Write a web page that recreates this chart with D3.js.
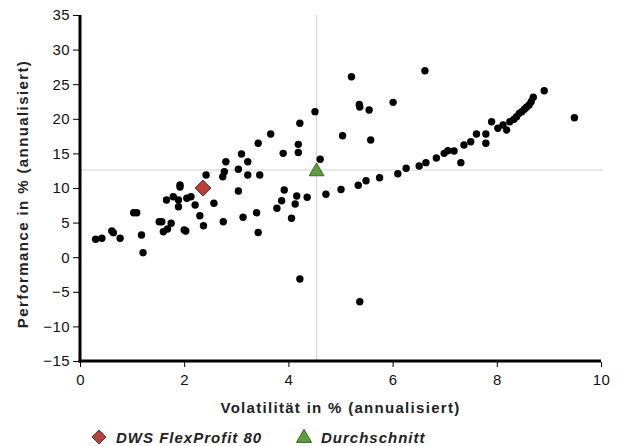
<!DOCTYPE html>
<html>
<head>
<meta charset="utf-8">
<script src="https://cdn.jsdelivr.net/npm/d3@7"></script>
<style>
  body { margin: 0; background: #fff; }
  svg { font-family: "Liberation Sans", Arial, sans-serif; }
</style>
</head>
<body>
<svg id="chart"></svg>
<script>
// peer group funds: volatility (x) and performance (y), both in % annualised
const volatility = [0.30, 0.42, 0.61, 0.64, 0.77, 1.03, 1.09, 1.18, 1.21, 1.52, 1.57, 1.60, 1.68, 1.75,
  1.66, 1.79, 1.89, 1.89, 1.92, 1.92, 2.05, 2.13, 2.21, 2.30, 2.37, 2.00, 2.03, 2.42, 2.57, 2.74,
  2.77, 2.80, 2.75, 3.04, 3.04, 3.10, 3.22, 3.22, 3.13, 3.39, 3.42, 3.42, 3.45, 3.66, 3.78, 3.87,
  3.92, 3.90, 4.06, 4.13, 4.16, 4.19, 4.19, 4.22, 4.36, 4.51, 4.61, 4.22, 5.37, 4.72, 5.01, 5.34,
  5.49, 5.75, 6.10, 6.26, 6.51, 6.64, 6.84, 6.99, 7.06, 7.18, 7.31, 7.37, 7.50, 7.61, 7.79, 7.79,
  7.90, 8.02, 8.12, 8.19, 8.25, 8.33, 8.38, 8.43, 8.48, 8.53, 8.57, 8.62, 8.66, 8.70, 8.91, 9.49,
  5.21, 6.62, 5.36, 5.37, 5.55, 6.01, 5.04, 5.58];
const performance = [2.59, 2.73, 3.79, 3.55, 2.73, 6.43, 6.43, 3.21, 0.65, 5.13, 5.13, 3.68, 4.08, 4.90,
  8.27, 8.74, 8.27, 7.30, 10.43, 10.14, 8.51, 8.74, 7.54, 6.00, 4.55, 3.93, 3.79, 11.88, 7.79, 11.63,
  12.36, 13.80, 5.13, 9.57, 12.70, 14.91, 13.80, 11.88, 5.77, 6.43, 3.57, 16.46, 11.88, 17.80, 7.07, 8.16,
  9.71, 15.01, 5.62, 7.69, 8.84, 16.31, 15.13, 19.35, 8.66, 21.03, 14.15, -3.15, -6.43, 9.09, 9.78, 10.39,
  11.05, 11.49, 12.07, 12.85, 13.18, 13.66, 14.34, 15.01, 15.38, 15.35, 13.66, 16.21, 16.69, 17.80, 17.80, 16.46,
  19.58, 18.63, 19.10, 18.38, 19.58, 19.93, 20.30, 20.79, 21.03, 21.37, 21.66, 21.99, 22.47, 23.11, 24.06, 20.16,
  26.08, 26.95, 22.07, 21.70, 21.27, 22.38, 17.54, 16.94];

const fund = { name: "DWS FlexProfit 80", vol: 2.36, perf: 10.0 };
const average = { name: "Durchschnitt", vol: 4.54, perf: 12.6 };

const xTicks = [0, 2, 4, 6, 8, 10];
const yTicks = [-15, -10, -5, 0, 5, 10, 15, 20, 25, 30, 35];

const width = 628, height = 446;
const margin = { top: 15, right: 27, bottom: 85, left: 80 };

const svg = d3.select("#chart").attr("width", width).attr("height", height);

const x = d3.scaleLinear().domain([0, 10]).range([margin.left, width - margin.right]);
const y = d3.scaleLinear().domain([-15, 35]).range([height - margin.bottom, margin.top]);

// grey reference lines through the average
svg.append("line")
  .attr("x1", x(0)).attr("x2", x(10) + 2)
  .attr("y1", y(average.perf)).attr("y2", y(average.perf))
  .attr("stroke", "#d4d4d4").attr("stroke-width", 1.2);
svg.append("line")
  .attr("x1", x(average.vol)).attr("x2", x(average.vol))
  .attr("y1", y(35)).attr("y2", y(-15))
  .attr("stroke", "#d4d4d4").attr("stroke-width", 1.2);

// axes
const xAxis = d3.axisBottom(x).tickValues(xTicks).tickSize(5).tickSizeOuter(0).tickFormat(d3.format("d"));
const yAxis = d3.axisLeft(y).tickValues(yTicks).tickSize(6).tickSizeOuter(0).tickFormat(d => d < 0 ? "\u2212" + Math.abs(d) : d);

const xg = svg.append("g").attr("transform", `translate(0,${y(-15) + 1})`).call(xAxis);
const yg = svg.append("g").attr("transform", `translate(${x(0) - 1},0)`).call(yAxis);

[xg, yg].forEach(g => {
  g.select(".domain").remove();
  g.selectAll(".tick line").attr("stroke", "#000");
  g.selectAll(".tick text").attr("fill", "#111")
    .style("font-size", "15px").style("letter-spacing", "0.4px");
});
xg.selectAll(".tick text").attr("y", 12);
yg.selectAll(".tick text").attr("x", -9);

// thick axis lines
svg.append("line")
  .attr("x1", x(0)).attr("x2", x(0))
  .attr("y1", y(35)).attr("y2", y(-15) + 1.5)
  .attr("stroke", "#000").attr("stroke-width", 3);
svg.append("line")
  .attr("x1", x(0) - 1.5).attr("x2", x(10))
  .attr("y1", y(-15)).attr("y2", y(-15))
  .attr("stroke", "#000").attr("stroke-width", 3);

// peer group points
const points = volatility.map((v, i) => ({ vol: v, perf: performance[i] }));
svg.append("g").selectAll("circle")
  .data(points)
  .join("circle")
  .attr("cx", d => x(d.vol))
  .attr("cy", d => y(d.perf))
  .attr("r", 3.7)
  .attr("fill", "#000");

// fund marker and average marker
svg.append("path")
  .attr("d", d3.symbol().type(d3.symbolSquare).size(128)())
  .attr("transform", `translate(${x(fund.vol)},${y(fund.perf)}) rotate(45)`)
  .attr("fill", "#b5403a").attr("stroke", "#5a1f1c").attr("stroke-width", 0.8);

svg.append("path")
  .attr("d", d3.symbol().type(d3.symbolTriangle).size(95)())
  .attr("transform", `translate(${x(average.vol)},${y(average.perf) + 1.5})`)
  .attr("fill", "#5b9e3c").attr("stroke", "#2a4a1c").attr("stroke-width", 0.8);

// axis titles
svg.append("text")
  .attr("x", (x(0) + x(10)) / 2).attr("y", 413)
  .attr("text-anchor", "middle")
  .style("font-size", "15px").style("font-weight", "bold").style("letter-spacing", "1.3px")
  .attr("fill", "#222")
  .text("Volatilität in % (annualisiert)");

svg.append("text")
  .attr("transform", "translate(28,194) rotate(-90)")
  .attr("text-anchor", "middle")
  .style("font-size", "15px").style("font-weight", "bold").style("letter-spacing", "1.4px")
  .attr("fill", "#222")
  .text("Performance in % (annualisiert)");

// legend
const legend = svg.append("g").attr("transform", "translate(0,437)");
legend.append("path")
  .attr("d", d3.symbol().type(d3.symbolSquare).size(98)())
  .attr("transform", "translate(99,0) rotate(45)")
  .attr("fill", "#b5403a").attr("stroke", "#5a1f1c").attr("stroke-width", 0.8);
legend.append("text")
  .attr("x", 116).attr("y", 5.5)
  .style("font-size", "15px").style("font-weight", "bold").style("font-style", "italic")
  .style("letter-spacing", "1px").attr("fill", "#222")
  .text(fund.name);
legend.append("path")
  .attr("d", d3.symbol().type(d3.symbolTriangle).size(100)())
  .attr("transform", "translate(304,1)")
  .attr("fill", "#5b9e3c").attr("stroke", "#2a4a1c").attr("stroke-width", 0.8);
legend.append("text")
  .attr("x", 321).attr("y", 5.5)
  .style("font-size", "15px").style("font-weight", "bold").style("font-style", "italic")
  .style("letter-spacing", "1px").attr("fill", "#222")
  .text(average.name);
</script>
</body>
</html>
